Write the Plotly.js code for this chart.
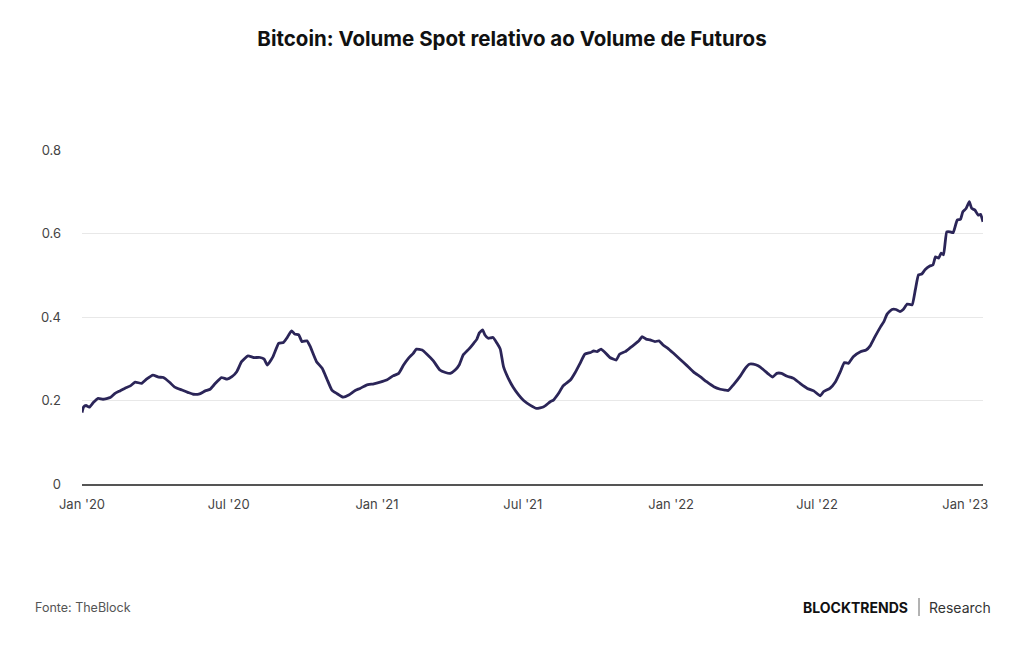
<!DOCTYPE html>
<html>
<head>
<meta charset="utf-8">
<script src="https://cdn.plot.ly/plotly-3.0.1.min.js"></script>
<style>html,body{margin:0;padding:0;background:#fff;}#chart{width:1024px;height:645px;}</style>
</head>
<body>
<div id="chart"></div>
<script>
const dates = [
"2020-01-01","2020-01-03","2020-01-06","2020-01-10","2020-01-15","2020-01-21","2020-01-27","2020-02-05","2020-02-11","2020-02-17","2020-02-23",
"2020-03-01","2020-03-07","2020-03-15","2020-03-21","2020-03-29","2020-04-05","2020-04-11","2020-04-19","2020-04-25","2020-05-04","2020-05-12",
"2020-05-18","2020-05-26","2020-06-02","2020-06-08","2020-06-14","2020-06-22","2020-06-29","2020-07-05","2020-07-11","2020-07-17","2020-07-25",
"2020-08-01","2020-08-09","2020-08-14","2020-08-18","2020-08-25","2020-09-01","2020-09-07","2020-09-11","2020-09-17","2020-09-21","2020-09-26",
"2020-09-30","2020-10-06","2020-10-10","2020-10-18","2020-10-25","2020-10-31","2020-11-06","2020-11-12","2020-11-20","2020-11-27","2020-12-05",
"2020-12-11","2020-12-19","2020-12-28","2021-01-05","2021-01-13","2021-01-21","2021-01-28","2021-02-03","2021-02-09","2021-02-15","2021-02-19",
"2021-02-26","2021-03-04","2021-03-12","2021-03-20","2021-03-27","2021-04-02","2021-04-08","2021-04-13","2021-04-18","2021-04-25","2021-05-01",
"2021-05-05","2021-05-08","2021-05-12","2021-05-15","2021-05-19","2021-05-25","2021-05-30","2021-06-03","2021-06-07","2021-06-13","2021-06-19",
"2021-06-26","2021-07-02","2021-07-10","2021-07-18","2021-07-27","2021-08-04","2021-08-08","2021-08-14","2021-08-20","2021-08-29","2021-09-04",
"2021-09-10","2021-09-16","2021-09-23","2021-09-27","2021-10-01","2021-10-06","2021-10-11","2021-10-17","2021-10-25","2021-10-29","2021-11-05",
"2021-11-11","2021-11-17","2021-11-22","2021-11-26","2021-12-01","2021-12-06","2021-12-12","2021-12-17","2021-12-22","2021-12-28","2022-01-04",
"2022-01-12","2022-01-21","2022-01-29","2022-02-06","2022-02-14","2022-02-23","2022-03-03","2022-03-09","2022-03-13","2022-03-19","2022-03-28",
"2022-04-03","2022-04-08","2022-04-13","2022-04-19","2022-04-26","2022-05-02","2022-05-07","2022-05-12","2022-05-18","2022-05-25","2022-05-29",
"2022-06-02","2022-06-10","2022-06-19","2022-06-27","2022-07-05","2022-07-09","2022-07-17","2022-07-24","2022-07-30","2022-08-04","2022-08-09",
"2022-08-15","2022-08-24","2022-08-31","2022-09-05","2022-09-11","2022-09-18","2022-09-22","2022-09-26","2022-10-02","2022-10-07","2022-10-12",
"2022-10-16","2022-10-21","2022-10-27","2022-10-31","2022-11-04","2022-11-08","2022-11-12","2022-11-18","2022-11-22","2022-11-25","2022-11-29",
"2022-12-02","2022-12-05","2022-12-09","2022-12-13","2022-12-17","2022-12-22","2022-12-26","2022-12-29","2023-01-02","2023-01-06","2023-01-09",
"2023-01-13","2023-01-17","2023-01-20","2023-01-23"
];
const ratio = [
0.171,0.185,0.188,0.184,0.195,0.205,0.203,0.207,0.217,0.223,0.229,
0.235,0.244,0.241,0.251,0.261,0.256,0.255,0.243,0.232,0.225,0.219,
0.215,0.216,0.223,0.227,0.240,0.255,0.251,0.257,0.269,0.293,0.307,
0.303,0.303,0.299,0.285,0.305,0.337,0.339,0.349,0.367,0.359,0.357,
0.341,0.343,0.330,0.293,0.277,0.251,0.225,0.217,0.208,0.213,0.224,
0.229,0.237,0.240,0.244,0.249,0.259,0.265,0.285,0.301,0.313,0.323,
0.321,0.311,0.295,0.273,0.267,0.265,0.273,0.285,0.309,0.323,0.337,
0.347,0.362,0.369,0.357,0.349,0.351,0.337,0.323,0.281,0.253,0.232,
0.213,0.200,0.189,0.181,0.185,0.197,0.201,0.216,0.235,0.249,0.267,
0.289,0.311,0.315,0.319,0.317,0.323,0.315,0.303,0.297,0.311,0.317,
0.326,0.335,0.343,0.353,0.347,0.345,0.341,0.343,0.333,0.325,0.313,
0.299,0.283,0.268,0.257,0.245,0.233,0.227,0.225,0.224,0.237,0.259,
0.277,0.287,0.287,0.283,0.273,0.263,0.256,0.265,0.265,0.258,0.256,
0.253,0.241,0.229,0.223,0.211,0.221,0.229,0.245,0.269,0.291,0.289,
0.305,0.317,0.321,0.331,0.353,0.377,0.389,0.407,0.418,0.418,0.413,
0.418,0.431,0.429,0.465,0.501,0.503,0.513,0.522,0.525,0.544,0.541,
0.553,0.549,0.604,0.604,0.602,0.632,0.634,0.652,0.660,0.676,0.660,
0.656,0.644,0.646,0.628
];
const titleText = "Bitcoin: Volume Spot relativo ao Volume de Futuros";
const sourceText = "Fonte: TheBlock";
const brandText = "BLOCKTRENDS";
const brandSub = "Research";
const yTickVals = [0, 0.2, 0.4, 0.6, 0.8];
const yTickText = ["0", "0.2", "0.4", "0.6", "0.8"];

const L = 82, R = 983, T = 150, B = 484;
const W = R - L, H = B - T;
const px = x => (x - L) / W;
const py = y => (B - y) / H;

const trace = {
  x: dates, y: ratio, type: 'scatter', mode: 'lines',
  line: {color: '#2b2558', width: 2.8, shape: 'spline', smoothing: 0.4},
  hoverinfo: 'x+y'
};

const layout = {
  width: 1024, height: 645,
  margin: {l: L, r: 1024 - R, t: T, b: 645 - B},
  paper_bgcolor: '#ffffff', plot_bgcolor: '#ffffff',
  showlegend: false,
  font: {family: 'Inter, "Noto Sans", sans-serif', color: '#444', size: 13},
  title: {text: '<b>' + titleText + '</b>', x: 0.5, xanchor: 'center', y: 1 - 39/645, yanchor: 'middle',
          font: {family: 'Inter, sans-serif', size: 20.5, color: '#111'}},
  xaxis: {
    type: 'date', range: ['2020-01-01', '2023-01-23'],
    tickformat: "%b '%y", dtick: 'M6', tick0: '2020-01-01',
    showgrid: false, zeroline: false,
    showline: true, linecolor: '#555', linewidth: 1.5,
    ticks: '', ticklabelstandoff: 8,
    tickfont: {size: 13, color: '#444'}
  },
  yaxis: {
    range: [0, 0.8], tickvals: yTickVals, ticktext: yTickText,
    showgrid: true, gridcolor: '#e8e8e8', gridwidth: 1,
    zeroline: false, showline: false, ticks: '',
    ticklabelstandoff: 20,
    tickfont: {size: 13, color: '#444'}
  },
  annotations: [
    {text: sourceText, xref: 'paper', yref: 'paper', x: px(33), y: py(607), xanchor: 'left', yanchor: 'middle',
     showarrow: false, font: {size: 12.5, color: '#555'}},
    {text: '<b>' + brandText + '</b>', xref: 'paper', yref: 'paper', x: px(910), y: py(607), xanchor: 'right', yanchor: 'middle',
     showarrow: false, font: {size: 14, color: '#111'}},
    {text: brandSub, xref: 'paper', yref: 'paper', x: px(927), y: py(607), xanchor: 'left', yanchor: 'middle',
     showarrow: false, font: {size: 14, color: '#333'}}
  ],
  shapes: [
    {type: 'line', xref: 'paper', yref: 'paper', x0: px(919), x1: px(919), y0: py(598), y1: py(616),
     line: {color: '#666', width: 1}}
  ]
};

Plotly.newPlot('chart', [trace], layout, {displayModeBar: false, staticPlot: true});
</script>
</body>
</html>
